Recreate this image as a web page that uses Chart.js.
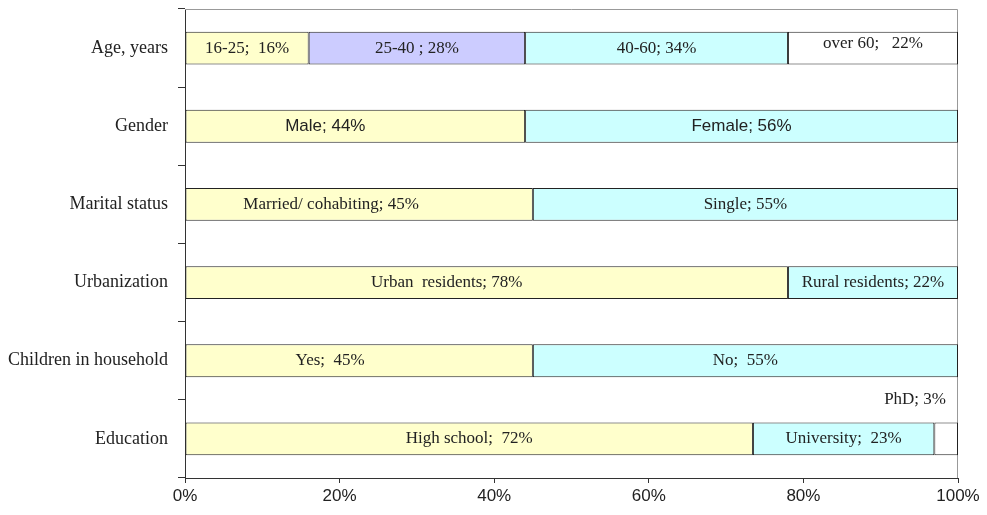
<!DOCTYPE html>
<html>
<head>
<meta charset="utf-8">
<script src="https://cdn.jsdelivr.net/npm/chart.js@4"></script>
<style>
  html, body { margin: 0; padding: 0; background: #fff; }
  #wrap { width: 987px; height: 515px; }
</style>
</head>
<body>
<div id="wrap"><canvas id="chart" width="987" height="515"></canvas></div>
<script>
const categories = ['Age, years', 'Gender', 'Marital status', 'Urbanization', 'Children in household', 'Education'];

// share of respondents (%) per segment, left to right
const seg1 = [16, 44, 45, 78, 45, 72];
const seg2 = [28, 56, 55, 22, 55, 23];
const seg3 = [34, null, null, null, null, 3];
const seg4 = [22, null, null, null, null, null];

// segment names
const names1 = ['16-25;  ', 'Male; ', 'Married/ cohabiting; ', 'Urban  residents; ', 'Yes;  ', 'High school;  '];
const names2 = ['25-40 ; ', 'Female; ', 'Single; ', 'Rural residents; ', 'No;  ', 'University;  '];
const names3 = ['40-60; ', null, null, null, null, 'PhD; '];
const names4 = ['over 60;   ', null, null, null, null, null];

const xTicks = [0, 20, 40, 60, 80, 100];

const YELLOW = '#ffffcc';
const LAVENDER = '#ccccff';
const CYAN = '#ccffff';
const WHITE = '#ffffff';

// 100% stacked: scale each row to its total
const segs = [seg1, seg2, seg3, seg4];
const totals = categories.map((c, i) => segs.reduce((s, a) => s + (a[i] || 0), 0));
const share = arr => arr.map((v, i) => v == null ? null : v / totals[i] * 100);

const colors = [
  categories.map(() => YELLOW),
  categories.map((c, i) => i === 0 ? LAVENDER : CYAN),
  categories.map((c, i) => i === 0 ? CYAN : WHITE),
  categories.map(() => WHITE)
];
const allNames = [names1, names2, names3, names4];

const datasets = segs.map((s, k) => ({
  data: share(s),
  raw: s,
  names: allNames[k],
  backgroundColor: colors[k],
  borderColor: '#222',
  borderWidth: 1,
  borderSkipped: false,
  barPercentage: 0.42,
  categoryPercentage: 1
}));

const SERIF = '"Liberation Serif", "DejaVu Serif", serif';
const SANS = '"Liberation Sans", Arial, sans-serif';

// frame round the plot area
const framePlugin = {
  id: 'frame',
  beforeDatasetsDraw(chart) {
    const { ctx, chartArea: a } = chart;
    ctx.save();
    ctx.strokeStyle = '#999';
    ctx.lineWidth = 1;
    ctx.beginPath();
    ctx.moveTo(a.left, a.top + 0.5);
    ctx.lineTo(a.right - 0.5, a.top + 0.5);
    ctx.lineTo(a.right - 0.5, a.bottom);
    ctx.stroke();
    ctx.restore();
  }
};

// some labels sit left of their segment's middle
const shift = { '0-1': -30, '0-2': -28, '0-3': -40, '0-4': -29 };

// text inside each segment
const segLabels = {
  id: 'segLabels',
  afterDatasetsDraw(chart) {
    const { ctx } = chart;
    ctx.save();
    ctx.fillStyle = '#222';
    ctx.textBaseline = 'middle';
    chart.data.datasets.forEach((ds, k) => {
      const meta = chart.getDatasetMeta(k);
      meta.data.forEach((bar, i) => {
        if (ds.raw[i] == null) return;
        const text = ds.names[i] + ds.raw[i] + '%';
        ctx.font = i === 1 ? '17px ' + SANS : '17px ' + SERIF;
        const w = ctx.measureText(text).width;
        const left = Math.min(bar.x, bar.base);
        const right = Math.max(bar.x, bar.base);
        if (right - left < w) {
          // too narrow: put it above the bar
          ctx.textAlign = 'right';
          ctx.fillText(text, chart.chartArea.right - 12, bar.y - 39);
          return;
        }
        ctx.textAlign = 'center';
        let y = bar.y;
        if (i === 0 && k === 3) y -= 5;
        ctx.fillText(text, (left + right) / 2 + (shift[k + '-' + i] || 0), y);
      });
    });
    ctx.restore();
  }
};

new Chart(document.getElementById('chart'), {
  type: 'bar',
  data: { labels: categories, datasets: datasets },
  options: {
    indexAxis: 'y',
    responsive: false,
    animation: false,
    layout: { padding: { top: 9, right: 29, left: 0, bottom: 0 } },
    plugins: { legend: { display: false }, tooltip: { enabled: false } },
    scales: {
      x: {
        stacked: true,
        min: 0,
        max: 100,
        afterBuildTicks: s => { s.ticks = xTicks.map(v => ({ value: v })); },
        afterFit: s => { s.height = 37; },
        border: { color: '#333', width: 1 },
        grid: { drawOnChartArea: false, drawTicks: true, tickLength: 5, color: '#333' },
        ticks: {
          color: '#222',
          font: { family: SANS, size: 17 },
          padding: 3,
          maxRotation: 0,
          callback: v => v + '%'
        }
      },
      y: {
        stacked: true,
        afterFit: s => { s.width = 185; s.paddingTop = 0; s.paddingBottom = 0; },
        border: { color: '#333', width: 1 },
        grid: { drawOnChartArea: false, drawTicks: true, tickLength: 7, color: '#333', offset: true },
        ticks: {
          color: '#222',
          font: { family: SERIF, size: 18 },
          padding: 10
        }
      }
    }
  },
  plugins: [framePlugin, segLabels]
});
</script>
</body>
</html>
